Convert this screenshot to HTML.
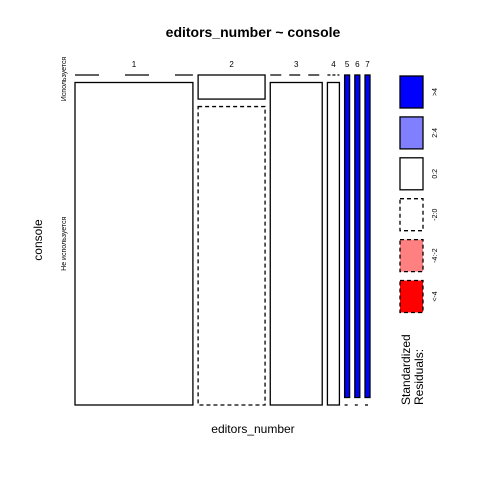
<!DOCTYPE html>
<html><head><meta charset="utf-8"><style>
body{margin:0;background:#fff;}
svg{display:block;font-family:"Liberation Sans",sans-serif;}
</style></head><body>
<svg id="chart" width="480" height="480" viewBox="0 0 480 480">
<rect width="480" height="480" fill="#fff"/>
<text x="253" y="37" text-anchor="middle" font-size="14" font-weight="bold">editors_number ~ console</text>
<text x="253" y="433" text-anchor="middle" font-size="12">editors_number</text>
<text transform="translate(42,240) rotate(-90)" text-anchor="middle" font-size="12">console</text>
<g id="cells"></g>
<g id="legend"></g>
<text transform="translate(410,405) rotate(-90)" font-size="12">Standardized</text>
<text transform="translate(423,405) rotate(-90)" font-size="12">Residuals:</text>
</svg>
<script>
const categories = ["1","2","3","4","5","6","7"];
const rowLabels = ["Используется","Не используется"];
const topCounts = [0,5,0,0,5,5,5];
const bottomCounts = [118,62,52,12,0,0,0];
const topResid = [-1,1,-1,-1,5,5,5];
const bottomResid = [1,-1,1,1,-1,-1,-1];
const legendLabels = [">4","2:4","0:2","-2:0","-4:-2","<-4"];

const NS="http://www.w3.org/2000/svg";
const svg=document.getElementById('cells');
const X0=75,X1=370,Y0=75,Y1=405,GX=5.2,GY=7.5;
function mk(tag,attrs){const e=document.createElementNS(NS,tag);for(const k in attrs)e.setAttribute(k,attrs[k]);return e;}
function fillFor(r){return r>4?"#0000ff":r>2?"#8080ff":r<-4?"#ff0000":r<-2?"#ff8080":"#ffffff";}
function dashFor(r){return r<0?"4,3":"none";}
const totals=categories.map((c,i)=>topCounts[i]+bottomCounts[i]);
const sum=totals.reduce((a,b)=>a+b,0);
const availW=(X1-X0)-GX*(categories.length-1);
const availH=(Y1-Y0)-GY;
let x=X0;
categories.forEach((c,i)=>{
  const w=totals[i]/sum*availW;
  const hTop=topCounts[i]/totals[i]*availH;
  const yTopEnd=Y0+hTop;
  const yBot=yTopEnd+GY;
  const cells=[[Y0,hTop,topResid[i],'top'],[yBot,Y1-yBot,bottomResid[i],'bottom']];
  cells.forEach(([y,h,r,pos])=>{
    let e;
    if(h<0.5){
      const da=w>80?"24,26":w>30?"11,8":"3,2";
      e=mk('line',{x1:x,x2:x+w,y1:y,y2:y,stroke:'#000','stroke-width':1.3,'stroke-dasharray':da});
    }else{
      e=mk('rect',{x:x,y:y,width:w,height:h,fill:fillFor(r),stroke:'#000','stroke-width':1.3,'stroke-dasharray':dashFor(r)});
    }
    
    
    svg.appendChild(e);
  });
  const t=mk('text',{x:x+w/2,y:67,'text-anchor':'middle','font-size':8});
  t.textContent=c;
  
  
  svg.appendChild(t);
  x+=w+GX;
});
const hTop0=topCounts[0]/totals[0]*availH;
const rowCenters=[Y0+4, (Y0+hTop0+GY+Y1)/2];
rowLabels.forEach((l,i)=>{
  const t=mk('text',{transform:`translate(66,${rowCenters[i]}) rotate(-90)`,'text-anchor':'middle','font-size':7});
  t.textContent=l;
  
  
  svg.appendChild(t);
});
const lg=document.getElementById('legend');
const legendResid=[5,3,1,-1,-3,-5];
legendLabels.forEach((l,i)=>{
  const y=76+i*40.9;
  const r=mk('rect',{x:400,y:y,width:23,height:32,fill:fillFor(legendResid[i]),stroke:'#000','stroke-width':1.3,'stroke-dasharray':dashFor(legendResid[i])});
  
  
  lg.appendChild(r);
  const t=mk('text',{transform:`translate(437,${y+16}) rotate(-90)`,'text-anchor':'middle','font-size':7});
  t.textContent=l;
  
  
  lg.appendChild(t);
});
</script>
</body></html>
